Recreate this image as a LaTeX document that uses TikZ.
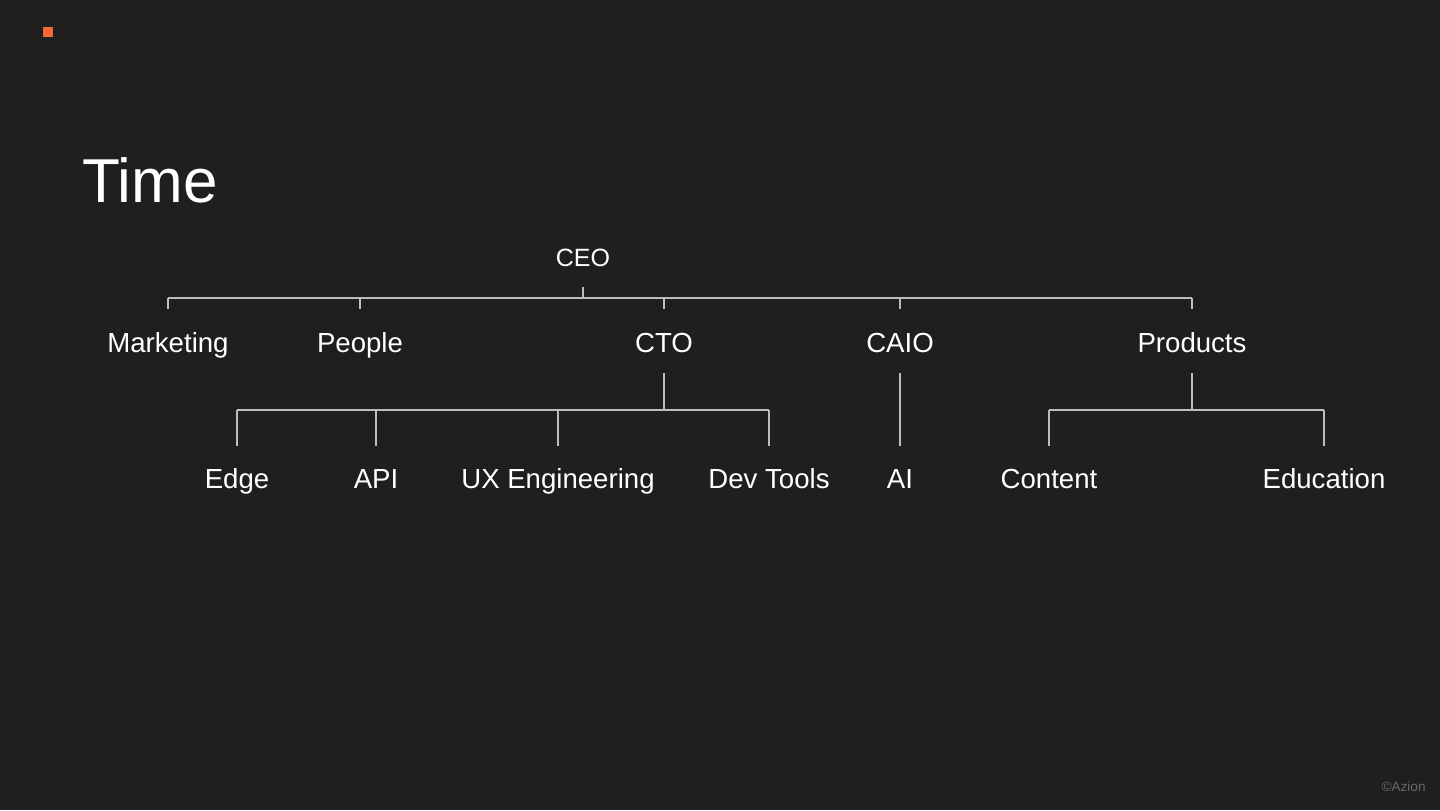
\documentclass[tikz,border=0pt]{standalone}
\usepackage{fontspec}
\setmainfont{Liberation Sans}
\usepackage{tikz}
\usetikzlibrary{positioning}
\definecolor{slidebg}{HTML}{1F1F1F}
\definecolor{linkgray}{HTML}{BDBDBD}
\definecolor{accent}{HTML}{F26A35}
\definecolor{notegray}{HTML}{6A6A6A}

\begin{document}
\begin{tikzpicture}[
  x=0.5pt, y=-0.5pt,
  role/.style={text=white, anchor=base, inner sep=0pt, font=\fontsize{13.8}{16}\selectfont},
  link/.style={draw=linkgray, line width=1pt},
]
\fill[slidebg] (0,0) rectangle (1440,810);
\useasboundingbox (0,0) rectangle (1440,810);
\fill[accent] (43,27) rectangle (53,37);

\node[text=white, anchor=base west, inner sep=0pt, font=\fontsize{31}{36}\selectfont] (title) at (82,202) {Time};
\node[text=notegray, anchor=base east, inner sep=0pt, font=\fontsize{6.8}{8}\selectfont] (note) at (1426,791) {\textcopyright Azion};

% top level
\node[role, font=\fontsize{12.5}{15}\selectfont] (ceo) at (583,266) {CEO};
\node[role] (mkt) at (168,352) {Marketing};
\node[role] (people) at (360,352) {People};
\node[role] (cto) at (664,352) {CTO};
\node[role] (caio) at (900,352) {CAIO};
\node[role] (prod) at (1192,352) {Products};

% second level
\node[role] (edge) at (237,488) {Edge};
\node[role] (api) at (376,488) {API};
\node[role] (ux) at (558,488) {UX Engineering};
\node[role] (dev) at (769,488) {Dev Tools};
\node[role] (ai) at (900,488) {AI};
\node[role] (content) at (1049,488) {Content};
\node[role] (edu) at (1324,488) {Education};

\coordinate (ceobus) at (583,298);
\coordinate (ctobus) at (664,410);
\coordinate (prodbus) at (1192,410);

% CEO bus
\draw[link] (ceobus) -- ++(0,-11);
\draw[link] (mkt |- ceobus) -- (prod |- ceobus);
\foreach \n in {mkt,people,cto,caio,prod}
  \draw[link] (\n |- ceobus) -- ++(0,11);

% CTO bus
\draw[link] (ctobus) -- ++(0,-37);
\draw[link] (edge |- ctobus) -- (dev |- ctobus);
\foreach \n in {edge,api,ux,dev}
  \draw[link] (\n |- ctobus) -- ++(0,36);

% CAIO
\draw[link] (caio |- ctobus) ++(0,-37) -- ++(0,73);

% Products bus
\draw[link] (prodbus) -- ++(0,-37);
\draw[link] (content |- prodbus) -- (edu |- prodbus);
\foreach \n in {content,edu}
  \draw[link] (\n |- prodbus) -- ++(0,36);
\end{tikzpicture}
\end{document}
